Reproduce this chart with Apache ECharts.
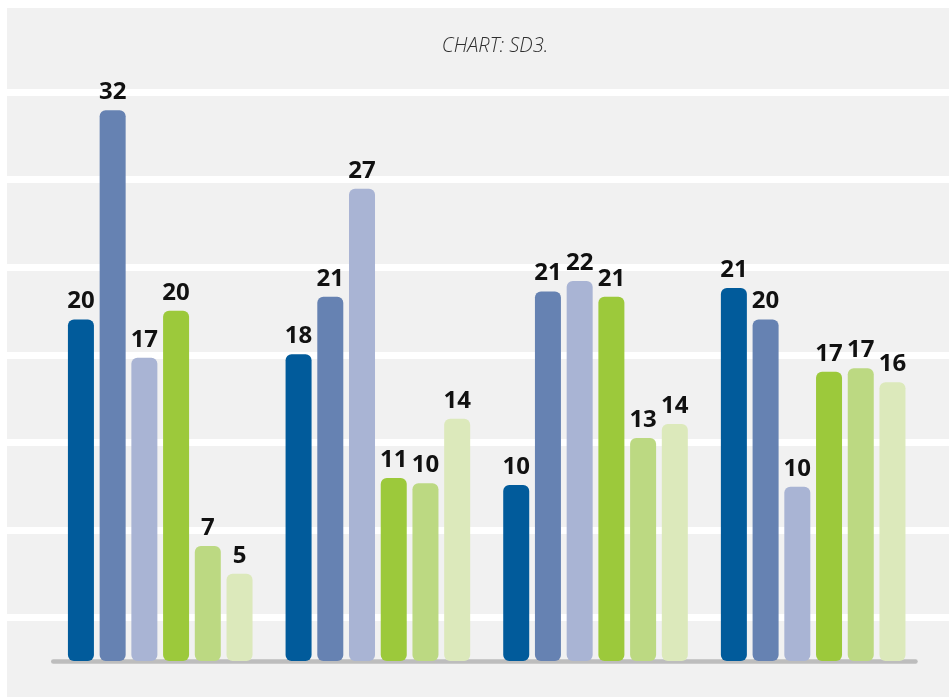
<!DOCTYPE html>
<html>
<head>
<meta charset="utf-8">
<script src="https://cdn.jsdelivr.net/npm/echarts@6/dist/echarts.min.js"></script>
<style>
html,body{margin:0;padding:0;background:#ffffff;}
#bg{position:absolute;left:7px;top:8px;width:942px;height:689px;background:#f1f1f1;}
#chart{position:absolute;left:0;top:0;width:949px;height:697px;}
</style>
</head>
<body>
<div id="bg"></div>
<div id="chart"></div>
<script>
// ---- data ----
const categories = ['Group 1', 'Group 2', 'Group 3', 'Group 4'];
const seriesNames = ['S1', 'S2', 'S3', 'S4', 'S5', 'S6'];
const s1 = [19.6, 17.6, 10.1, 21.4];
const s2 = [31.6, 20.9, 21.2, 19.6];
const s3 = [17.4, 27.1, 21.8, 10.0];
const s4 = [20.1, 10.5, 20.9, 16.6];
const s5 = [6.6, 10.2, 12.8, 16.8];
const s6 = [5.0, 13.9, 13.6, 16.0];
const allSeries = [s1, s2, s3, s4, s5, s6];
const colors = ['#015b9b', '#6682b2', '#a9b4d4', '#9cc93b', '#bcd982', '#dce9bb'];

const chart = echarts.init(document.getElementById('chart'), null, {renderer: 'canvas'});

const series = allSeries.map((vals, i) => ({
  name: seriesNames[i],
  type: 'bar',
  xAxisIndex: 1,
  yAxisIndex: 1,
  data: vals,
  barWidth: 26,
  barGap: '22%',
  z: 3,
  itemStyle: {color: colors[i], borderRadius: [6, 6, 6, 6]},
  label: {
    show: true,
    position: 'top',
    distance: 6,
    formatter: p => String(Math.round(p.value)),
    fontFamily: 'Noto Sans',
    fontWeight: 'bold',
    fontSize: 24,
    color: '#111111'
  }
}));

chart.setOption({
  backgroundColor: 'transparent',
  animation: false,
  title: {
    text: 'CHART: SD3.',
    left: 490,
    top: 31,
    textAlign: 'center',
    textStyle: {
      fontFamily: 'Open Sans',
      fontStyle: 'italic',
      fontWeight: 300,
      fontSize: 20,
      color: '#2e2e2e'
    }
  },
  grid: [
    {left: 7, right: 0, top: 92, bottom: 79.5},
    {left: 51.4, right: 27, top: 51, bottom: 36},
    {left: 53.3, right: 33.5, top: 600, bottom: 35.5}
  ],
  xAxis: [
    {gridIndex: 0, type: 'category', data: categories, show: false},
    {gridIndex: 1, type: 'category', data: categories, axisLine: {show: false}, axisTick: {show: false}, axisLabel: {show: false}},
    {gridIndex: 2, type: 'category', data: categories, axisLine: {show: true, lineStyle: {color: '#bdbdbd', width: 4.5, cap: 'round'}}, axisTick: {show: false}, axisLabel: {show: false}}
  ],
  yAxis: [
    {gridIndex: 0, type: 'value', min: 0, max: 30, interval: 5, axisLine: {show: false}, axisTick: {show: false}, axisLabel: {show: false}, splitLine: {show: true, lineStyle: {color: '#ffffff', width: 7}}},
    {gridIndex: 1, type: 'value', min: 0, max: 35, interval: 5, axisLine: {show: false}, axisTick: {show: false}, axisLabel: {show: false}, splitLine: {show: false}},
    {gridIndex: 2, type: 'value', min: 0, max: 1, show: false}
  ],
  series: series
});
</script>
</body>
</html>
